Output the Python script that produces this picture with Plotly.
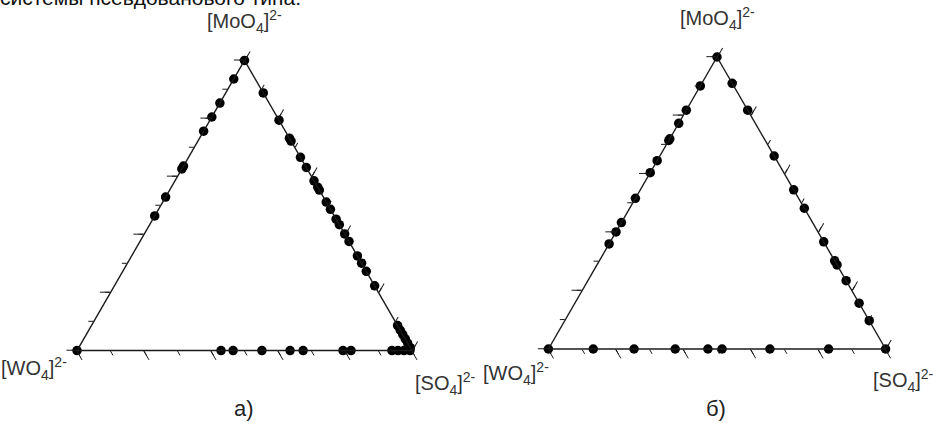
import plotly.graph_objects as go

# ---------------- data (fractions) ----------------
# panel а)
a_wmo_moo4 = [1.0, 0.936, 0.853, 0.805, 0.756, 0.636, 0.626, 0.529, 0.464, 0.0]          # MoO4 share on WO4–MoO4 edge
a_mos_moo4 = [0.888, 0.794, 0.732, 0.722, 0.666, 0.631, 0.585, 0.563, 0.553, 0.512,
              0.487, 0.453, 0.434, 0.402, 0.376, 0.326, 0.301, 0.273, 0.223,
              0.086, 0.070, 0.055, 0.040, 0.026, 0.010]                                     # MoO4 share on MoO4–SO4 edge
a_ws_so4 = [0.430, 0.466, 0.552, 0.636, 0.675, 0.794, 0.818, 0.940, 0.958, 0.976, 0.994]   # SO4 share on WO4–SO4 edge

# panel б)
b_wmo_moo4 = [1.0, 0.901, 0.818, 0.773, 0.720, 0.714, 0.645, 0.604, 0.516, 0.433, 0.401, 0.360, 0.0]
b_mos_moo4 = [0.910, 0.818, 0.661, 0.545, 0.482, 0.367, 0.302, 0.288, 0.234, 0.157, 0.097, 0.0]
b_ws_so4 = [0.133, 0.254, 0.376, 0.473, 0.515, 0.657, 0.831]

vertex_labels = ["[MoO<sub>4</sub>]<sup>2-</sup>", "[WO<sub>4</sub>]<sup>2-</sup>", "[SO<sub>4</sub>]<sup>2-</sup>"]
panel_labels = ["а)", "б)"]
top_text = "системы псевдованового типа."


def abc(wmo, mos, ws):
    a, b, c = [], [], []
    for v in wmo:
        a.append(v); b.append(1 - v); c.append(0.0)
    for v in mos:
        a.append(v); b.append(0.0); c.append(1 - v)
    for v in ws:
        a.append(0.0); b.append(1 - v); c.append(v)
    return a, b, c


W, H = 939, 425
LINE = "#1a1a1a"
FONT = "Liberation Sans, Arial, sans-serif"

fig = go.Figure()

panels = [
    dict(data=abc(a_wmo_moo4, a_mos_moo4, a_ws_so4), x=(77, 412), y=(60, 351), main="ternary", minor="ternary2",
         wo=dict(x=-8, anchor="right", y=17), so=dict(x=1, anchor="left", y=32)),
    dict(data=abc(b_wmo_moo4, b_mos_moo4, b_ws_so4), x=(548, 886), y=(57, 349), main="ternary3", minor="ternary4",
         wo=dict(x=3, anchor="right", y=24), so=dict(x=50, anchor="right", y=31)),
]


def axis(major):
    return dict(
        showticklabels=False,
        ticks="outside",
        ticklen=10 if major else 5,
        tickwidth=1.3,
        tickcolor=LINE,
        tick0=0,
        dtick=0.2 if major else 0.1,
        showline=major,
        linecolor=LINE,
        linewidth=1.4,
        showgrid=False,
        title=dict(text=""),
        min=0,
    )


for i, p in enumerate(panels):
    a, b, c = p["data"]
    dom = dict(
        x=[p["x"][0] / W, p["x"][1] / W],
        y=[1 - p["y"][1] / H, 1 - p["y"][0] / H],
    )
    for key, major in ((p["minor"], False), (p["main"], True)):
        fig.update_layout(**{key: dict(
            domain=dom,
            sum=1,
            bgcolor="rgba(0,0,0,0)",
            aaxis=axis(major), baxis=axis(major), caxis=axis(major),
        )})
    fig.add_trace(go.Scatterternary(a=[], b=[], c=[], mode="markers", subplot=p["minor"],
                                    showlegend=False, hoverinfo="skip"))
    fig.add_trace(go.Scatterternary(
        a=a, b=b, c=c, mode="markers", subplot=p["main"], showlegend=False,
        marker=dict(size=9.5, color="black", line=dict(width=0)),
        cliponaxis=False,
    ))

    xl, xr = p["x"]
    yt, yb = p["y"]
    xm = (xl + xr) / 2
    lab_font = dict(family=FONT, size=20, color="#333333")
    # top vertex
    fig.add_annotation(x=xm / W, y=1 - (yt - 38) / H, xref="paper", yref="paper",
                       text=vertex_labels[0], showarrow=False, font=lab_font,
                       xanchor="center", yanchor="middle")
    # bottom-left vertex
    fig.add_annotation(x=(xl + p["wo"]["x"]) / W, y=1 - (yb + p["wo"]["y"]) / H, xref="paper", yref="paper",
                       text=vertex_labels[1], showarrow=False, font=lab_font,
                       xanchor=p["wo"]["anchor"], yanchor="middle")
    # bottom-right vertex
    fig.add_annotation(x=(xr + p["so"]["x"]) / W, y=1 - (yb + p["so"]["y"]) / H, xref="paper", yref="paper",
                       text=vertex_labels[2], showarrow=False, font=lab_font,
                       xanchor=p["so"]["anchor"], yanchor="middle")
    # panel label
    fig.add_annotation(x=(xm - 1) / W, y=1 - 408 / H, xref="paper", yref="paper",
                       text=panel_labels[i], showarrow=False,
                       font=dict(family=FONT, size=22, color="#222"),
                       xanchor="center", yanchor="middle")

fig.add_annotation(x=0, y=1, xref="paper", yref="paper", text=top_text, showarrow=False,
                   font=dict(family=FONT, size=21, color="#111"),
                   xanchor="left", yanchor="middle", xshift=-2, yshift=3)

fig.update_layout(
    width=W, height=H,
    margin=dict(l=0, r=0, t=0, b=0),
    paper_bgcolor="white",
    plot_bgcolor="white",
    showlegend=False,
)

fig.write_html("out.html", config={"displayModeBar": False},
               post_script="document.body.style.margin='0';document.body.style.overflow='hidden';")
